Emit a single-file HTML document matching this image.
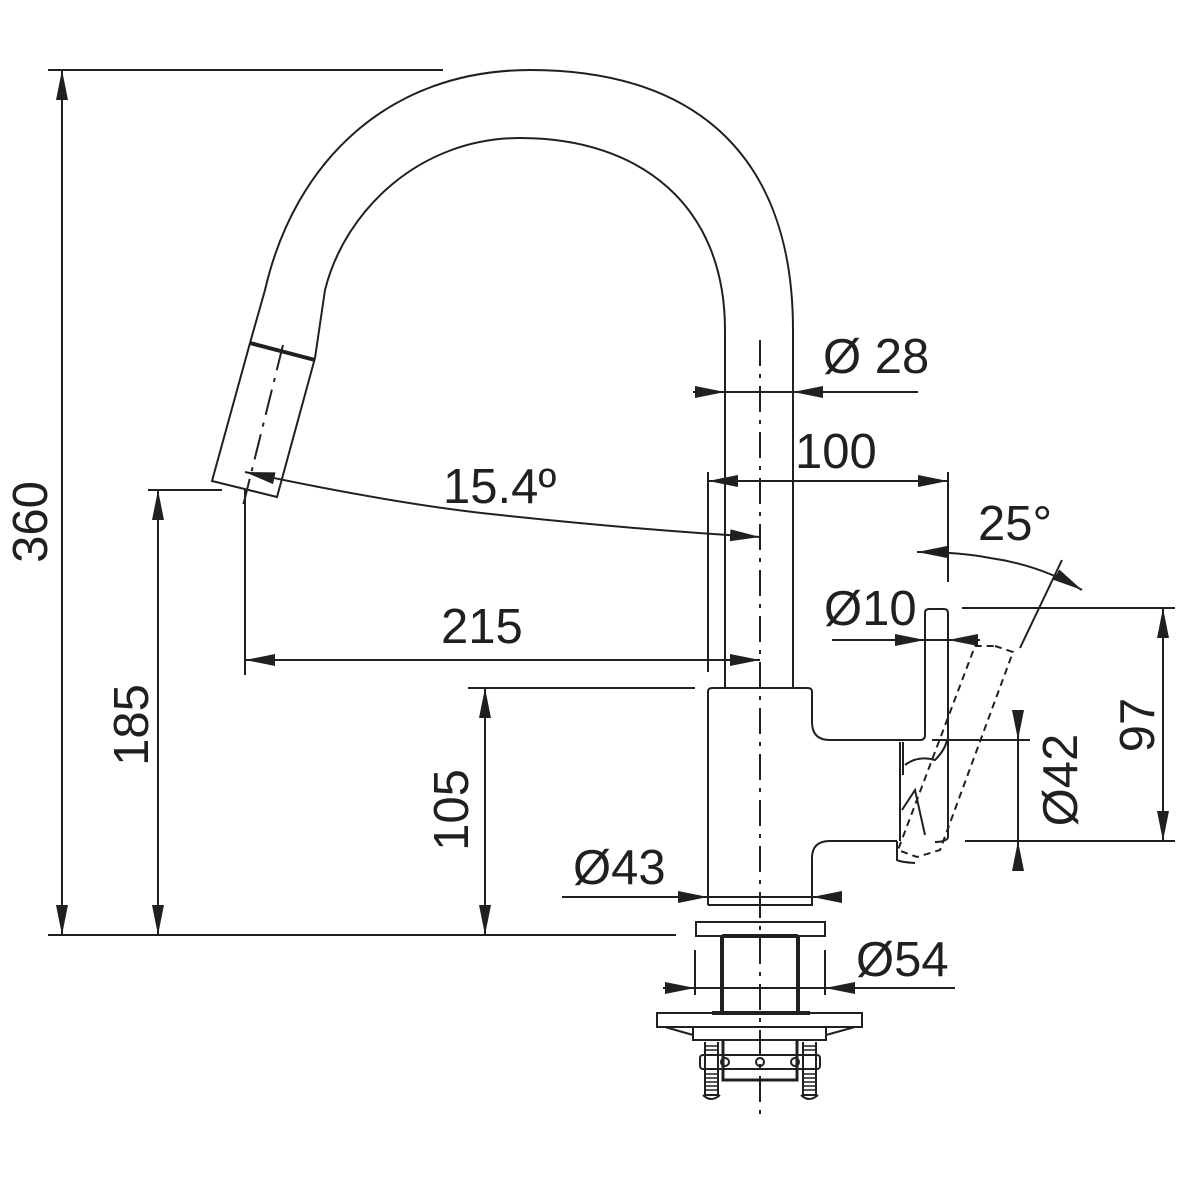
<!DOCTYPE html>
<html><head><style>html,body{margin:0;padding:0;background:#fff}svg{display:block}text{font-family:"Liberation Sans",Arial,sans-serif;fill:#231f20}</style></head>
<body>
<svg width="1200" height="1200" viewBox="0 0 1200 1200" xmlns="http://www.w3.org/2000/svg">
<defs>
<marker id="a" viewBox="0 0 30 12" refX="30" refY="6" markerWidth="30" markerHeight="12" markerUnits="userSpaceOnUse" orient="auto"><path d="M0,0 L30,6 L0,12z" fill="#231f20"/></marker>
</defs>
<g stroke="#231f20" fill="none" stroke-width="2">
<!-- spout -->
<path d="M793,688 L793,330 C793,160 700,70 530,70 C390,70 295,160 265,290 L250,343"/>
<path d="M725,688 L725,330 C725,205 640,138 520,138 C420,138 345,210 325,290 L315,358"/>
<path d="M250,343 L212,481 L277,497 L315,358"/>
<path d="M250,343 L315,360" stroke-width="4"/>
<path d="M283,345 L242,510" stroke-dasharray="26,8,4,8"/>
<!-- centerline -->
<path d="M760,340 L760,1115" stroke-dasharray="26,8,4,8"/>
<!-- body -->
<path d="M708,905 L708,692 Q708,688 712,688 L808,688 Q812,688 812,692 L812,722 Q812,740 830,740 L920,740 Q925,740 925,735 L925,613 Q925,609 929,609 L944,609 Q948,609 948,613 L948,838"/>
<path d="M708,905 L812,905 L812,858 Q812,841 830,841 L897,841"/>
<path d="M900,742 L900,841 M903,742 L903,775"/>
<path d="M948,838 Q945,842 935,842 M897,841 L897,860 Q900,862 915,863"/>
<path d="M905,765 Q918,755 935,760 Q945,750 947,740"/>
<path d="M902,810 L915,790 L925,835"/>
<!-- dashed rotated handle -->
<path d="M995,646 L1013,652 L940,850 L917,857 L898,850 L975,646 z" stroke-dasharray="7,5"/>
<!-- base -->
<rect x="696" y="922" width="129" height="14"/>
<path d="M722,936 L722,1012 M798,936 L798,1012 M722,936 L798,936" stroke-width="4"/>
<path d="M712,1013 L810,1013" stroke-width="4"/>
<rect x="657" y="1013" width="205" height="14"/>
<path d="M693,1027 L693,1040 L826,1040 L826,1027 M665,1027 L693,1035 M855,1027 L826,1035"/>
<path d="M723,1040 L723,1080 L797,1080 L797,1040" stroke-width="3"/>
<rect x="700" y="1055" width="120" height="14" rx="3"/>
<circle cx="725" cy="1062" r="4"/><circle cx="760" cy="1062" r="4"/><circle cx="795" cy="1062" r="4"/>
<path d="M705,1042 L705,1095 L718,1095 L718,1042 M803,1042 L803,1095 L816,1095 L816,1042"/>
<path d="M706,1046h11M706,1050h11M706,1074h11M706,1078h11M706,1082h11M706,1086h11M706,1090h11M804,1046h11M804,1050h11M804,1074h11M804,1078h11M804,1082h11M804,1086h11M804,1090h11" stroke-width="1.5"/>
<path d="M703,1095 Q711,1103 720,1095 M801,1095 Q809,1103 818,1095"/>
<!-- extension lines -->
<path d="M48,70 L443,70 M48,935 L676,935 M148,490 L222,490 M468,688 L695,688 M245,490 L245,675 M708,472 L708,672 M948,472 L948,582 M962,608 L1175,608 M965,841 L1175,841 M932,740 L1030,740 M695,950 L695,995 M825,950 L825,995"/>
<!-- dimension lines -->
<path d="M62,500 L62,70" marker-end="url(#a)"/><path d="M62,500 L62,935" marker-end="url(#a)"/>
<path d="M158,700 L158,490" marker-end="url(#a)"/><path d="M158,700 L158,935" marker-end="url(#a)"/>
<path d="M485,800 L485,688" marker-end="url(#a)"/><path d="M485,800 L485,935" marker-end="url(#a)"/>
<path d="M1163,720 L1163,608" marker-end="url(#a)"/><path d="M1163,720 L1163,841" marker-end="url(#a)"/>
<path d="M1018,712 L1018,740" marker-end="url(#a)"/><path d="M1018,740 L1018,841"/><path d="M1018,866 L1018,841" marker-end="url(#a)"/>
<path d="M500,660 L245,660" marker-end="url(#a)"/><path d="M500,660 L760,660" marker-end="url(#a)"/>
<path d="M800,481 L708,481" marker-end="url(#a)"/><path d="M800,481 L948,481" marker-end="url(#a)"/>
<path d="M693,392 L725,392" marker-end="url(#a)"/><path d="M725,392 L793,392"/><path d="M918,392 L793,392" marker-end="url(#a)"/>
<path d="M832,640 L925,640" marker-end="url(#a)"/><path d="M925,640 L948,640"/><path d="M980,640 L948,640" marker-end="url(#a)"/>
<path d="M562,897 L708,897" marker-end="url(#a)"/><path d="M708,897 L812,897"/><path d="M840,897 L812,897" marker-end="url(#a)"/>
<path d="M663,988 L695,988" marker-end="url(#a)"/><path d="M695,988 L825,988"/><path d="M955,988 L825,988" marker-end="url(#a)"/>
<path d="M500,515 Q400,505 245,472" marker-end="url(#a)"/><path d="M500,515 Q640,530 760,537" marker-end="url(#a)"/>
<path d="M990,558 Q960,552 917,552" marker-end="url(#a)"/><path d="M990,558 Q1040,565 1082,590" marker-end="url(#a)"/>
<path d="M1062,560 L1020,648"/>
</g>
<g font-size="49">
<text x="443" y="503">15.4º</text>
<text x="441" y="643">215</text>
<text x="795" y="468">100</text>
<text x="823" y="373">Ø 28</text>
<text x="978" y="540">25°</text>
<text x="824" y="625">Ø10</text>
<text x="573" y="884">Ø43</text>
<text x="856" y="976">Ø54</text>
<text transform="translate(47,522) rotate(-90)" text-anchor="middle">360</text>
<text transform="translate(148,725) rotate(-90)" text-anchor="middle">185</text>
<text transform="translate(468,810) rotate(-90)" text-anchor="middle">105</text>
<text transform="translate(1077,780) rotate(-90)" text-anchor="middle">Ø42</text>
<text transform="translate(1154,725) rotate(-90)" text-anchor="middle">97</text>
</g>
</svg>
</body></html>
